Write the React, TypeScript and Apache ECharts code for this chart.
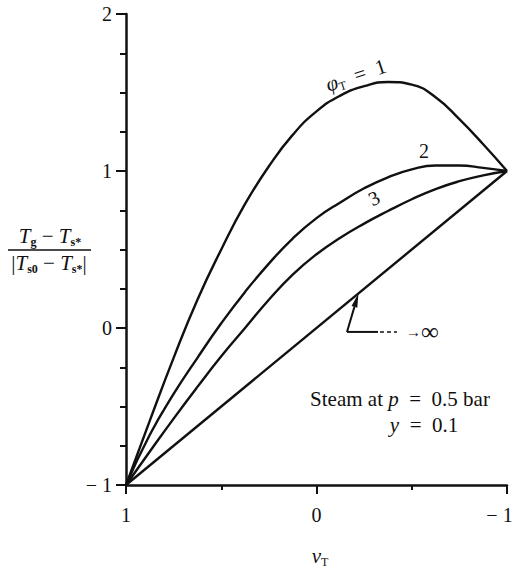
import { useEffect, useRef } from 'react';
import * as echarts from 'echarts';

const SERIF = '"Liberation Serif", "Times New Roman", serif';
const INK = '#111';

// v_T sample positions shared by the three finite-phi curves
const vT = [1, 0.875, 0.75, 0.625, 0.5, 0.375, 0.25, 0.125, 0, -0.125, -0.25, -0.375, -0.5, -0.625, -0.75, -0.875, -1];

// (T_g - T_s*)/|T_s0 - T_s*| at each v_T
const phi1Values = [-1, -0.59, -0.19, 0.18, 0.5, 0.79, 1.03, 1.23, 1.38, 1.48, 1.54, 1.567, 1.55, 1.47, 1.33, 1.17, 1];
const phi2Values = [-1, -0.68, -0.42, -0.19, 0.03, 0.23, 0.41, 0.57, 0.7, 0.8, 0.89, 0.96, 1.01, 1.035, 1.035, 1.02, 1];
const phi3Values = [-1, -0.787, -0.577, -0.375, -0.18, 0, 0.18, 0.34, 0.47, 0.575, 0.665, 0.745, 0.82, 0.885, 0.935, 0.972, 1];

// limiting case phi_T -> infinity is a straight line
const phiInfVT = [1, -1];
const phiInfValues = [-1, 1];

const X_RANGE = [-1, 1];
const Y_RANGE = [-1, 2];

// label anchors in data space
const phi1LabelAt = [-0.207, 1.61];
const phi2LabelAt = [-0.564, 1.127];
const phi3LabelAt = [-0.302, 0.828];
const arrowTipAt = [-0.22, 0.22];
const arrowCornerAt = [-0.16, -0.025];

const tickText = (v: number) => (v < 0 ? '\u2212 ' + Math.abs(v) : String(v));
// the right-most v_T label sits against the edge, so it is nudged inwards
const xTickText = (v: number) => (v === X_RANGE[0] ? '{edge|' + tickText(v) + '}' : tickText(v));
const zip = (xs: number[], ys: number[]) => xs.map((x, i) => [x, ys[i]]);

export default function App() {
  const ref = useRef<HTMLDivElement>(null);

  useEffect(() => {
    if (!ref.current) return;
    const chart = echarts.init(ref.current, null, { renderer: 'svg' });

    const lineSeries = (name: string, data: number[][]) => ({
      name,
      type: 'line',
      data,
      smooth: 0.5,
      showSymbol: false,
      symbol: 'none',
      lineStyle: { color: INK, width: 2.4 },
      z: 3,
    });

    chart.setOption({
      animation: false,
      backgroundColor: '#fff',
      grid: { left: 126, width: 381, top: 14, height: 471, outerBoundsMode: 'none', containLabel: false },
      xAxis: {
        type: 'value',
        inverse: true,
        min: X_RANGE[0],
        max: X_RANGE[1],
        interval: 1,
        axisLine: { onZero: false, lineStyle: { color: INK, width: 2.5 } },
        axisTick: { length: 9, lineStyle: { color: INK, width: 2 } },
        minorTick: { show: true, splitNumber: 2, length: 5, lineStyle: { color: INK, width: 2 } },
        splitLine: { show: false },
        axisLabel: {
          margin: 20,
          color: INK,
          fontFamily: SERIF,
          fontSize: 20,
          formatter: xTickText,
          rich: {
            edge: { fontFamily: SERIF, fontSize: 20, color: INK, padding: [0, 15, 0, 0] },
          },
        },
      },
      yAxis: {
        type: 'value',
        min: Y_RANGE[0],
        max: Y_RANGE[1],
        interval: 1,
        axisLine: { onZero: false, lineStyle: { color: INK, width: 2.5 } },
        axisTick: { length: 10, lineStyle: { color: INK, width: 2 } },
        minorTick: { show: true, splitNumber: 4, length: 6, lineStyle: { color: INK, width: 2 } },
        splitLine: { show: false },
        axisLabel: {
          margin: 14,
          color: INK,
          fontFamily: SERIF,
          fontSize: 20,
          formatter: tickText,
        },
      },
      series: [
        lineSeries('phi=1', zip(vT, phi1Values)),
        lineSeries('phi=2', zip(vT, phi2Values)),
        lineSeries('phi=3', zip(vT, phi3Values)),
        lineSeries('phi=inf', zip(phiInfVT, phiInfValues)),
      ],
    });

    const px = (p: number[]) => chart.convertToPixel({ gridIndex: 0 }, p) as number[];

    const p1 = px(phi1LabelAt);
    const p2 = px(phi2LabelAt);
    const p3 = px(phi3LabelAt);
    const tip = px(arrowTipAt);
    const corner = px(arrowCornerAt);

    const dx = tip[0] - corner[0];
    const dy = tip[1] - corner[1];
    const len = Math.hypot(dx, dy);
    const ux = dx / len;
    const uy = dy / len;
    const nx = -uy;
    const ny = ux;
    const headLen = 14;
    const headHalf = 3;
    const base = [tip[0] - ux * headLen, tip[1] - uy * headLen];

    const rich = {
      i: { fontFamily: SERIF, fontStyle: 'italic', fontSize: 21, lineHeight: 24, verticalAlign: 'middle', fill: INK },
      n: { fontFamily: SERIF, fontSize: 21, lineHeight: 24, verticalAlign: 'middle', fill: INK },
      s: { fontFamily: SERIF, fontSize: 12, lineHeight: 13, verticalAlign: 'bottom', fill: INK, fontWeight: 'bold' },
      t: { fontFamily: SERIF, fontSize: 12, lineHeight: 12, verticalAlign: 'bottom', fill: INK },
    };
    const SP = '\u2002';

    chart.setOption({
      graphic: [
        {
          type: 'text',
          x: p1[0],
          y: p1[1],
          rotation: 0.32,
          style: {
            text: '{i|\u03c6}{t|T}{n|' + SP + '=' + SP + '1}',
            align: 'center',
            verticalAlign: 'middle',
            rich,
          },
        },
        {
          type: 'text',
          x: p2[0],
          y: p2[1],
          style: {
            text: '2',
            fontFamily: SERIF,
            fontSize: 20,
            fill: INK,
            align: 'center',
            verticalAlign: 'middle',
          },
        },
        {
          type: 'text',
          x: p3[0],
          y: p3[1],
          rotation: 0.45,
          style: {
            text: '3',
            fontFamily: SERIF,
            fontSize: 20,
            fill: INK,
            align: 'center',
            verticalAlign: 'middle',
          },
        },
        // pointer to the phi_T -> infinity line
        {
          type: 'line',
          shape: { x1: corner[0], y1: corner[1], x2: base[0], y2: base[1] },
          style: { stroke: INK, lineWidth: 2 },
        },
        {
          type: 'polygon',
          shape: {
            points: [
              [tip[0], tip[1]],
              [base[0] + nx * headHalf, base[1] + ny * headHalf],
              [base[0] - nx * headHalf, base[1] - ny * headHalf],
            ],
          },
          style: { fill: INK },
        },
        {
          type: 'line',
          shape: { x1: corner[0], y1: corner[1], x2: corner[0] + 31, y2: corner[1] },
          style: { stroke: INK, lineWidth: 2 },
        },
        {
          type: 'line',
          shape: { x1: corner[0] + 33, y1: corner[1], x2: corner[0] + 50, y2: corner[1] },
          style: { stroke: INK, lineWidth: 1.5, lineDash: [4, 3] },
        },
        {
          type: 'text',
          x: corner[0] + 59,
          y: corner[1],
          style: {
            text: '{a|\u2192}{b|\u221e}',
            align: 'left',
            verticalAlign: 'middle',
            rich: {
              a: { fontFamily: SERIF, fontSize: 15, fill: INK, verticalAlign: 'middle', lineHeight: 22 },
              b: { fontFamily: SERIF, fontSize: 25, fill: INK, verticalAlign: 'middle', lineHeight: 22 },
            },
          },
        },
        // operating conditions
        {
          type: 'text',
          x: 400,
          y: 399,
          style: {
            text: '{n|Steam at }{i|p}{n|' + SP + '=' + SP + '0.5 bar}',
            align: 'center',
            verticalAlign: 'middle',
            rich,
          },
        },
        {
          type: 'text',
          x: 424,
          y: 425,
          style: {
            text: '{i|y}{n|' + SP + '=' + SP + '0.1}',
            align: 'center',
            verticalAlign: 'middle',
            rich,
          },
        },
        // x-axis name
        {
          type: 'text',
          x: 320,
          y: 556,
          style: {
            text: '{i|v}{t|T}',
            align: 'center',
            verticalAlign: 'middle',
            rich,
          },
        },
        // y-axis name as a fraction
        {
          type: 'text',
          x: 50,
          y: 236,
          style: {
            text: '{i|T}{s|g}{n| \u2212 }{i|T}{s|s*}',
            align: 'center',
            verticalAlign: 'middle',
            rich,
          },
        },
        {
          type: 'line',
          shape: { x1: 8, y1: 250, x2: 91, y2: 250 },
          style: { stroke: INK, lineWidth: 1.5 },
        },
        {
          type: 'text',
          x: 49,
          y: 263,
          style: {
            text: '{n||}{i|T}{s|s0}{n| \u2212 }{i|T}{s|s*}{n||}',
            align: 'center',
            verticalAlign: 'middle',
            rich,
          },
        },
      ],
    });

    return () => chart.dispose();
  }, []);

  return (
    <div
      ref={ref}
      style={{ position: 'absolute', left: 0, top: 0, width: 514, height: 570, background: '#fff' }}
    />
  );
}
